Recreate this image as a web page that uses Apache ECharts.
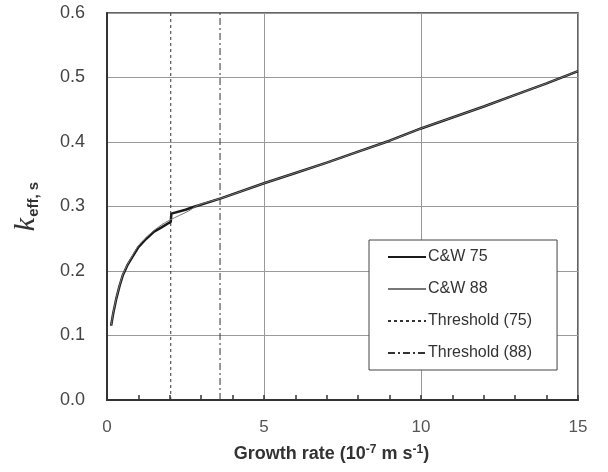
<!DOCTYPE html>
<html>
<head>
<meta charset="utf-8">
<script src="https://cdn.jsdelivr.net/npm/echarts@6/dist/echarts.min.js"></script>
<style>
  html, body { margin: 0; padding: 0; background: #fff; }
  #chart { width: 608px; height: 472px; }
</style>
</head>
<body>
<div id="chart"></div>
<script>
// growth rate (10^-7 m/s) vs k_eff,s
const cw75X = [0.13, 0.2, 0.3, 0.4, 0.5, 0.65, 0.8, 1.0, 1.25, 1.5, 1.75, 1.95, 2.03, 2.05, 2.5, 2.8, 3.65, 5, 6, 7, 8, 9, 10, 11, 12, 13, 14, 15];
const cw75Y = [0.115, 0.135, 0.158, 0.177, 0.193, 0.209, 0.221, 0.237, 0.250, 0.261, 0.268, 0.274, 0.276, 0.289, 0.295, 0.300, 0.313, 0.336, 0.352, 0.368, 0.385, 0.402, 0.421, 0.438, 0.455, 0.473, 0.491, 0.510];
const cw88X = [0.13, 0.2, 0.3, 0.4, 0.5, 0.65, 0.8, 1.0, 1.25, 1.5, 1.75, 2.0, 2.3, 2.6, 2.9, 3.65, 5, 6, 7, 8, 9, 10, 11, 12, 13, 14, 15];
const cw88Y = [0.115, 0.136, 0.159, 0.178, 0.194, 0.210, 0.223, 0.239, 0.252, 0.263, 0.272, 0.279, 0.286, 0.293, 0.302, 0.313, 0.336, 0.352, 0.368, 0.385, 0.402, 0.421, 0.438, 0.455, 0.473, 0.491, 0.510];
const threshold75 = 2.03;
const threshold88 = 3.6;
const xTicks = [0, 5, 10, 15];
const yTicks = [0.0, 0.1, 0.2, 0.3, 0.4, 0.5, 0.6];

function pairs(xs, ys) {
  return xs.map((x, i) => [x, ys[i]]);
}

const chart = echarts.init(document.getElementById('chart'));

chart.setOption({
  animation: false,
  backgroundColor: '#fff',
  textStyle: { fontFamily: 'Liberation Sans, Arial, sans-serif' },
  grid: {
    left: 107, right: 30, top: 13, bottom: 72,
    show: true, borderColor: '#333', borderWidth: 1.5, backgroundColor: '#fff'
  },
  legend: {
    orient: 'vertical',
    left: 369, top: 240,
    padding: [9, 25, 9, 18],
    itemWidth: 38, itemHeight: 14, itemGap: 16,
    backgroundColor: '#fff',
    borderColor: '#444', borderWidth: 1,
    itemStyle: { opacity: 0 },
    textStyle: { fontSize: 16, color: '#333', padding: [0, 0, 0, -3] },
    data: ['C&W 75', 'C&W 88', 'Threshold (75)', 'Threshold (88)']
  },
  xAxis: {
    type: 'value',
    min: 0, max: 15, interval: 5,
    name: '{b|Growth rate (10}{sup|-7}{b| m s}{sup|-1}{b|)}',
    nameLocation: 'middle',
    nameGap: 44,
    nameTextStyle: {
      padding: [0, 22, 0, 0],
      rich: {
        b: { fontSize: 18, fontWeight: 'bold', color: '#333' },
        sup: { fontSize: 12, fontWeight: 'bold', color: '#333', verticalAlign: 'top', padding: [0, 0, 9, 0] }
      }
    },
    axisLine: { show: true, lineStyle: { color: '#333', width: 2 } },
    axisTick: { show: true, inside: true, length: 5, lineStyle: { color: '#333', width: 1.5 } },
    minorTick: { show: true, splitNumber: 5, length: 5, lineStyle: { color: '#333', width: 1.5 } },
    axisLabel: {
      fontSize: 17, color: '#555', margin: 19,
      formatter: v => xTicks.includes(v) ? String(v) : ''
    },
    splitLine: { show: true, lineStyle: { color: '#999', width: 1 } }
  },
  yAxis: {
    type: 'value',
    min: 0, max: 0.6, interval: 0.1,
    name: '{k|k}{s|eff, s}',
    nameLocation: 'middle',
    nameGap: 66,
    nameRotate: 90,
    nameTextStyle: {
      rich: {
        k: { fontSize: 30, fontStyle: 'italic', fontFamily: 'Liberation Serif, Times New Roman, serif', color: '#333' },
        s: { fontSize: 15, fontWeight: 'bold', color: '#333', verticalAlign: 'bottom', padding: [10, 0, 0, 1] }
      }
    },
    axisLine: { show: true, lineStyle: { color: '#333', width: 2 } },
    axisTick: { show: false },
    axisLabel: {
      fontSize: 18, color: '#444', margin: 22,
      formatter: v => yTicks.find(t => Math.abs(t - v) < 1e-9).toFixed(1)
    },
    splitLine: { show: true, lineStyle: { color: '#999', width: 1 } }
  },
  series: [
    {
      name: 'Threshold (75)',
      type: 'line',
      symbol: 'none',
      data: [[threshold75, 0], [threshold75, 0.6]],
      itemStyle: { color: '#333' },
      lineStyle: { color: '#333', width: 1, type: [3, 3] },
      z: 2
    },
    {
      name: 'Threshold (88)',
      type: 'line',
      symbol: 'none',
      data: [[threshold88, 0], [threshold88, 0.6]],
      itemStyle: { color: '#333' },
      lineStyle: { color: '#333', width: 1, type: [7, 3, 2, 3] },
      z: 2
    },
    {
      name: 'C&W 75',
      type: 'line',
      symbol: 'none',
      data: pairs(cw75X, cw75Y),
      itemStyle: { color: '#1a1a1a' },
      lineStyle: { color: '#1a1a1a', width: 2.5 },
      z: 3
    },
    {
      name: 'C&W 88',
      type: 'line',
      symbol: 'none',
      smooth: 0.3,
      data: pairs(cw88X, cw88Y),
      itemStyle: { color: '#777' },
      lineStyle: { color: '#777', width: 1 },
      z: 4
    }
  ]
});
</script>
</body>
</html>
